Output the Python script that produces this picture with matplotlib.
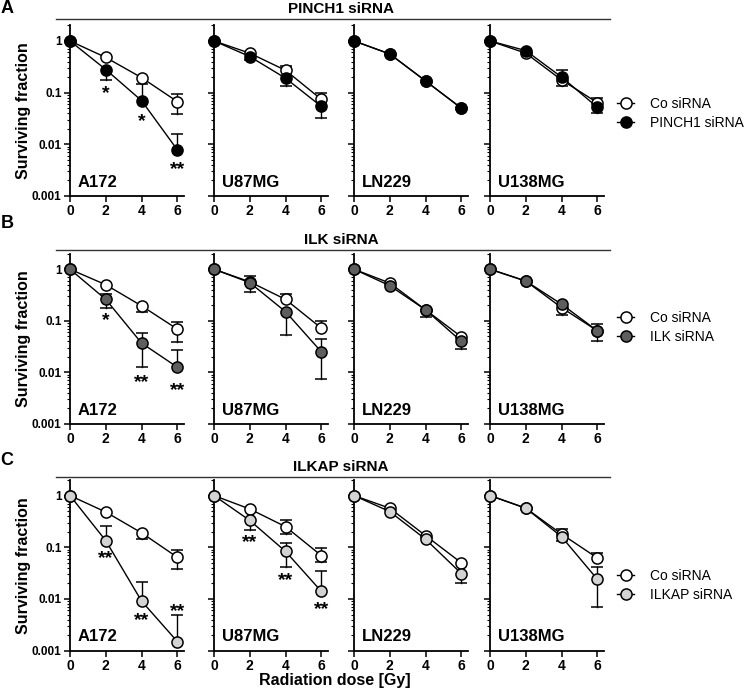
import numpy as np
import matplotlib
matplotlib.use('Agg')
import matplotlib.pyplot as plt
from matplotlib.lines import Line2D
from matplotlib.ticker import LogLocator, NullFormatter, FixedLocator

plt.rcParams['font.family'] = ['Liberation Sans', 'DejaVu Sans']

n = np.nan
dose = [0, 2, 4, 6]
cell_lines = ['A172', 'U87MG', 'LN229', 'U138MG']
row_letters = ['A', 'B', 'C']
row_titles = ['PINCH1 siRNA', 'ILK siRNA', 'ILKAP siRNA']
treat_colors = ['#000000', '#5e5e5e', '#d3d3d3']

# surviving fraction, one list per cell line (A172, U87MG, LN229, U138MG)
co_a = [[1, 0.48, 0.195, 0.067], [1, 0.58, 0.27, 0.074], [1, 0.56, 0.168, 0.050], [1, 0.58, 0.176, 0.064]]
pinch1 = [[1, 0.28, 0.07, 0.0078], [1, 0.50, 0.19, 0.054], [1, 0.56, 0.168, 0.050], [1, 0.65, 0.20, 0.052]]
co_b = [[1, 0.50, 0.195, 0.069], [1, 0.57, 0.26, 0.072], [1, 0.54, 0.163, 0.049], [1, 0.59, 0.18, 0.064]]
ilk = [[1, 0.26, 0.037, 0.0126], [1, 0.55, 0.15, 0.025], [1, 0.48, 0.163, 0.040], [1, 0.59, 0.21, 0.064]]
co_c = [[1, 0.48, 0.19, 0.064], [1, 0.55, 0.25, 0.069], [1, 0.57, 0.168, 0.050], [1, 0.57, 0.18, 0.062]]
ilkap = [[1, 0.134, 0.0091, 0.0015], [1, 0.33, 0.083, 0.014], [1, 0.49, 0.143, 0.031], [1, 0.57, 0.16, 0.024]]

# error bar ends (nan = not drawn)
co_a_lo = [[n, n, n, 0.039], [n, n, n, n], [n, n, n, n], [n, n, 0.135, n]]
co_a_hi = [[n, n, n, 0.095], [n, n, 0.33, 0.10], [n, n, n, n], [n, n, n, 0.08]]
pinch1_lo = [[n, 0.176, n, n], [n, 0.43, 0.135, 0.032], [n, n, n, n], [n, n, n, 0.04]]
pinch1_hi = [[n, n, 0.148, 0.016], [n, n, n, n], [n, n, n, n], [n, n, 0.27, n]]
co_b_lo = [[n, n, 0.15, 0.039], [n, n, n, n], [n, n, n, n], [n, n, 0.13, n]]
co_b_hi = [[n, n, n, 0.096], [n, 0.74, 0.33, 0.10], [n, n, n, n], [n, n, n, n]]
ilk_lo = [[n, 0.18, 0.013, n], [n, 0.37, 0.053, 0.0076], [n, n, 0.12, 0.029], [n, n, n, 0.041]]
ilk_hi = [[n, 0.33, 0.059, 0.027], [n, n, n, 0.044], [n, n, n, n], [n, n, n, 0.087]]
co_c_lo = [[n, n, 0.145, 0.038], [n, n, 0.18, 0.051], [n, n, n, n], [n, n, n, n]]
co_c_hi = [[n, n, n, 0.09], [n, n, 0.33, 0.097], [n, n, n, n], [n, n, 0.23, 0.078]]
ilkap_lo = [[n, n, n, n], [n, 0.22, 0.041, n], [n, n, n, 0.020], [n, n, 0.13, 0.0071]]
ilkap_hi = [[n, 0.26, 0.021, 0.0048], [n, n, 0.12, 0.035], [n, n, n, n], [n, n, n, 0.042]]

# significance marks: (cell line index, dose, surviving fraction at glyph centre, text)
stars_a = [(0, 2, 0.116, '*'), (0, 4, 0.034, '*'), (0, 6, 0.0039, '**')]
stars_b = [(0, 2, 0.12, '*'), (0, 4, 0.0076, '**'), (0, 6, 0.0053, '**')]
stars_c = [(0, 2, 0.074, '**'), (0, 4, 0.0046, '**'), (0, 6, 0.0069, '**'),
           (1, 2, 0.152, '**'), (1, 4, 0.0275, '**'), (1, 6, 0.0074, '**')]

rows = [
    (co_a, co_a_lo, co_a_hi, pinch1, pinch1_lo, pinch1_hi, stars_a),
    (co_b, co_b_lo, co_b_hi, ilk, ilk_lo, ilk_hi, stars_b),
    (co_c, co_c_lo, co_c_hi, ilkap, ilkap_lo, ilkap_hi, stars_c),
]

W, H = 750, 694
fig = plt.figure(figsize=(W / 100, H / 100), dpi=100)

col_left = [70, 214, 354, 490]
ax_w = 114
row_top = [25.4, 253.7, 480]
row_bot = [196, 424, 650.7]
line_y = [19, 250, 477.3]
title_base = [12.7, 244, 471.3]
letter_y = [8.5, 223.5, 460.5]
legend_y = [113.3, 327.5, 585.7]


def draw_err(ax, y, lo, hi):
    for x, yv, a, b in zip(dose, y, lo, hi):
        for end in (a, b):
            if np.isnan(end):
                continue
            ax.plot([x, x], [yv, end], color='black', lw=1, zorder=2, clip_on=False)
            ax.plot([x], [end], marker='_', ms=8, mew=1.1, color='black', zorder=2, clip_on=False)


for r, (co, co_lo, co_hi, tr, tr_lo, tr_hi, stars) in enumerate(rows):
    color = treat_colors[r]
    for c, cell in enumerate(cell_lines):
        ax = fig.add_axes([col_left[c] / W, 1 - row_bot[r] / H, ax_w / W, (row_bot[r] - row_top[r]) / H])
        ax.set_yscale('log')
        ax.set_ylim(0.001, 2)
        ax.set_xlim(0, 6.37)

        draw_err(ax, co[c], co_lo[c], co_hi[c])
        draw_err(ax, tr[c], tr_lo[c], tr_hi[c])
        ax.plot(dose, co[c], '-o', color='black', lw=1, ms=8, mfc='white', mec='black',
                mew=1.1, zorder=3, clip_on=False)
        ax.plot(dose, tr[c], '-o', color='black', lw=1, ms=8, mfc=color, mec='black',
                mew=1.1, zorder=4, clip_on=False)

        for sc, sx, sy, st in stars:
            if sc == c:
                ax.annotate(st, (sx, sy), xytext=(0, -6.3), textcoords='offset points',
                            ha='center', va='baseline', fontsize=14, fontweight='bold')

        ax.text(8 / ax_w, 0.055, cell, transform=ax.transAxes, fontsize=12,
                fontweight='bold', va='baseline', ha='left')

        for s in ['top', 'right']:
            ax.spines[s].set_visible(False)
        for s in ['left', 'bottom']:
            ax.spines[s].set_linewidth(1.3)
        ax.xaxis.set_major_locator(FixedLocator(dose))
        ax.yaxis.set_major_locator(FixedLocator([0.001, 0.01, 0.1, 1]))
        ax.yaxis.set_minor_locator(LogLocator(base=10, subs=np.arange(2, 10)))
        ax.yaxis.set_minor_formatter(NullFormatter())
        ax.tick_params(axis='both', which='major', length=4, width=1.1, pad=2)
        ax.tick_params(axis='x', labelsize=10)
        ax.tick_params(axis='y', labelsize=8.5)
        ax.tick_params(axis='y', which='minor', length=2.2, width=0.8)
        for lab in ax.get_xticklabels():
            lab.set_fontweight('bold')
        if c == 0:
            ax.set_yticklabels(['0.001', '0.01', '0.1', '1'], fontweight='bold', fontsize=8.5)
            ax.set_ylabel('Surviving fraction', fontsize=11.5, fontweight='bold')
            ax.yaxis.set_label_coords(-0.345, 0.5)
        else:
            ax.set_yticklabels([])

    # header line and title
    fig.add_artist(Line2D([56 / W, 610 / W], [1 - line_y[r] / H] * 2, color='#333333', lw=1))
    fig.text(341 / W, 1 - title_base[r] / H, row_titles[r], ha='center', va='baseline',
             fontsize=11, fontweight='bold')
    fig.text(7 / W, 1 - letter_y[r] / H, row_letters[r], ha='center', va='center',
             fontsize=13, fontweight='bold')

    handles = [
        Line2D([], [], color='black', lw=1, marker='o', ms=8, mfc='white', mec='black', mew=1.1),
        Line2D([], [], color='black', lw=1, marker='o', ms=8, mfc=color, mec='black', mew=1.1),
    ]
    fig.legend(handles, ['Co siRNA', row_titles[r]], loc='center left',
               bbox_to_anchor=(617 / W, 1 - legend_y[r] / H), frameon=False, fontsize=10,
               handlelength=1.25, handletextpad=1.1, labelspacing=0.35,
               borderaxespad=0, borderpad=0)

fig.text(335 / W, 1 - 685 / H, 'Radiation dose [Gy]', ha='center', va='baseline',
         fontsize=11.5, fontweight='bold')

fig.savefig('out.png', dpi=100)
